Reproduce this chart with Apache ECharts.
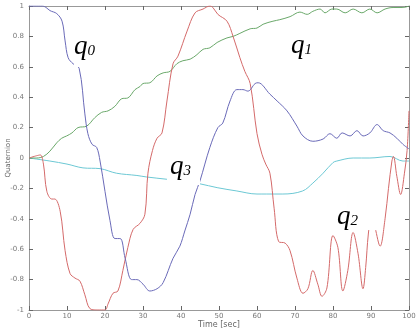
<!DOCTYPE html>
<html><head><meta charset="utf-8">
<script src="https://cdn.jsdelivr.net/npm/echarts@6/dist/echarts.min.js"></script>
<style>html,body{margin:0;padding:0;background:#fff}#c{width:417px;height:330px}</style>
</head><body><div id="c"></div>
<script>
var q0T=[0,3.5,4.5,5.5,7.3,8.7,9.5,10.3,11.6,13.2,14.7,15.5,16.6,17.8,18.7,20,21.3,22.6,24,25.3,27,28.4,30,31.8,33.7,35.3,37.9,39.7,41,42.4,43.7,45,47.6,49.7,51,52.9,54.7,56.3,57.6,59.5,60.3,63.4,65.3,67.9,70.5,72.1,74.7,77.4,79.2,81,82.4,84.5,86.3,87.9,89.7,91.6,93.2,95,96.8,98.4,100];
var q0V=[1,1,0.99,0.97,0.95,0.9,0.77,0.66,0.62,0.59,0.29,0.16,0.09,0.07,-0.02,-0.22,-0.41,-0.53,-0.53,-0.66,-0.8,-0.8,-0.83,-0.875,-0.86,-0.82,-0.66,-0.58,-0.48,-0.37,-0.24,-0.15,0.07,0.2,0.23,0.375,0.45,0.45,0.44,0.49,0.495,0.42,0.375,0.31,0.21,0.145,0.11,0.125,0.16,0.13,0.165,0.145,0.18,0.145,0.165,0.22,0.18,0.165,0.13,0.09,0.06];
var q1T=[0,2,3.8,5.5,7.3,8.6,9.9,11.3,12.9,15.2,17.3,19.1,20.8,22.6,24.4,26,27.9,29.2,30,31.8,33.7,35.3,37.1,38.9,40.5,42.4,44.2,45.8,47.6,49.5,52.1,53.7,55.5,58.2,60,61.6,64.2,66,68.7,71.3,73.2,74.7,76.6,77.9,79.7,81,83.2,85.3,87.6,89.7,91.6,93.7,95.8,98.4,100];
var q1V=[0,0,0.01,0.045,0.1,0.13,0.145,0.165,0.2,0.21,0.265,0.3,0.31,0.34,0.39,0.395,0.45,0.47,0.49,0.495,0.54,0.56,0.57,0.62,0.64,0.65,0.68,0.715,0.725,0.76,0.79,0.8,0.82,0.85,0.855,0.88,0.9,0.91,0.93,0.96,0.945,0.965,0.98,0.955,0.98,0.98,0.955,0.98,0.955,0.98,0.955,0.98,0.99,0.99,1];
var q2T=[0,2,3,3.8,4.7,6,6.8,8.2,9.5,10.8,12.1,13.4,14.7,16,17.9,20,20.8,22.1,23.4,24.7,26,27.4,29.2,30.5,31.3,32.5,33.7,35,36.3,37.9,39.2,41.6,43.7,45.8,47.6,48.4,49.7,52.1,53.7,55.5,56.8,58.2,60,61.3,62.3,63.4,64.5,65.7,67.4,68.7,70.5,72.1,73.4,74.7,76,77.1,78.4,80,81.3,82.6,83.9,85.3,86.6,87.9,88.6,89.3,90.2,91.1,92.4,93.7,94.6,95.5,95.9,96.8,97.8,98.8,99.5,100];
var q2V=[0,0.015,0.02,-0.04,-0.22,-0.27,-0.27,-0.35,-0.61,-0.76,-0.79,-0.81,-0.9,-0.99,-1,-1,-0.96,-0.89,-0.875,-0.74,-0.59,-0.47,-0.43,-0.37,-0.1,0.05,0.13,0.165,0.375,0.62,0.67,0.835,0.955,0.98,1,0.99,0.945,0.9,0.8,0.66,0.57,0.49,0.16,0.025,-0.04,-0.1,-0.33,-0.55,-0.56,-0.61,-0.79,-0.89,-0.86,-0.74,-0.83,-0.91,-0.855,-0.51,-0.59,-0.875,-0.74,-0.49,-0.63,-0.86,-0.72,-0.5,-0.36,-0.46,-0.58,-0.4,-0.2,-0.02,0.01,-0.12,-0.24,-0.1,0.05,0.31];
var q3T=[0,5.5,10,14.2,18.7,23,28.4,31,36.3,41,45,49.5,54.7,60,62.6,66.8,72,74.7,77.4,80,81,85.3,89.7,95,98.4,100];
var q3V=[0,-0.02,-0.04,-0.065,-0.07,-0.1,-0.115,-0.125,-0.14,-0.155,-0.17,-0.195,-0.217,-0.237,-0.237,-0.237,-0.217,-0.165,-0.1,-0.03,-0.02,0,0,0.01,-0.02,-0.02];
var xTicks={min:0,max:100,interval:10};
var yTicks={min:-1,max:1,interval:0.2};

function pairs(t,v){return t.map(function(x,i){return [x,v[i]];});}
var chart=echarts.init(document.getElementById('c'));
var axCol='#999', lblCol='#777';
function mkLine(d,c){return {type:'line',data:d,showSymbol:false,smooth:0.35,lineStyle:{color:c,width:1},z:2};}
var lblRich={q:{fontFamily:'Liberation Serif',fontStyle:'italic',fontSize:27,color:'#111'},s:{fontFamily:'Liberation Serif',fontStyle:'italic',fontSize:15,color:'#111',padding:[10,0,0,0]}};
function lbl(x,y,sub,w,h,pl){return {type:'text',left:x,top:y,z:10,style:{text:'{q|q}{s|'+sub+'}',rich:lblRich,backgroundColor:'#fff',padding:[2,4,2,pl],width:w,height:h}};}
chart.setOption({
  animation:false,
  grid:{left:29,right:8,top:6,bottom:20,outerBoundsMode:'none',containLabel:false},
  xAxis:[{type:'value',min:xTicks.min,max:xTicks.max,interval:xTicks.interval,
    name:'Time [sec]',nameLocation:'middle',nameGap:15,nameMoveOverlap:false,nameTextStyle:{fontSize:8,color:'#666',fontFamily:'DejaVu Sans',verticalAlign:'middle'},
    axisLine:{onZero:false,lineStyle:{color:axCol}},axisTick:{inside:true,length:4,lineStyle:{color:'#666'}},
    axisLabel:{fontSize:7,color:lblCol,margin:3,fontFamily:'DejaVu Sans'},splitLine:{show:false}},
    {type:'value',position:'top',min:xTicks.min,max:xTicks.max,interval:xTicks.interval,
    axisLine:{show:true,onZero:false,lineStyle:{color:axCol}},axisTick:{inside:true,length:4,lineStyle:{color:'#666'}},axisLabel:{show:false},splitLine:{show:false}}],
  yAxis:[{type:'value',min:yTicks.min,max:yTicks.max,interval:yTicks.interval,
    name:'Quaternion',nameLocation:'middle',nameGap:21,nameMoveOverlap:false,nameTextStyle:{fontSize:7,color:'#666',fontFamily:'DejaVu Sans',verticalAlign:'middle'},
    axisLine:{show:true,onZero:false,lineStyle:{color:axCol}},axisTick:{show:true,inside:true,length:4,lineStyle:{color:'#666'}},
    axisLabel:{fontSize:7,color:lblCol,margin:5,fontFamily:'DejaVu Sans',formatter:function(v){return String(Math.round(v*10)/10);}},splitLine:{show:false}},
    {type:'value',position:'right',min:yTicks.min,max:yTicks.max,interval:yTicks.interval,
    axisLine:{show:true,onZero:false,lineStyle:{color:axCol}},axisTick:{show:true,inside:true,length:4,lineStyle:{color:'#666'}},axisLabel:{show:false},splitLine:{show:false}}],
  series:[mkLine(pairs(q3T,q3V),'#6cc8d4'),mkLine(pairs(q1T,q1V),'#6aa86a'),mkLine(pairs(q2T,q2V),'#d46a6a'),mkLine(pairs(q0T,q0V),'#6a6ab8')],
  graphic:[lbl(74,31,'0',26,32,0),lbl(288,30,'1',24,30,3),lbl(167,151,'3',26,30,3),lbl(334,201,'2',40,25,3)]
});
</script></body></html>
